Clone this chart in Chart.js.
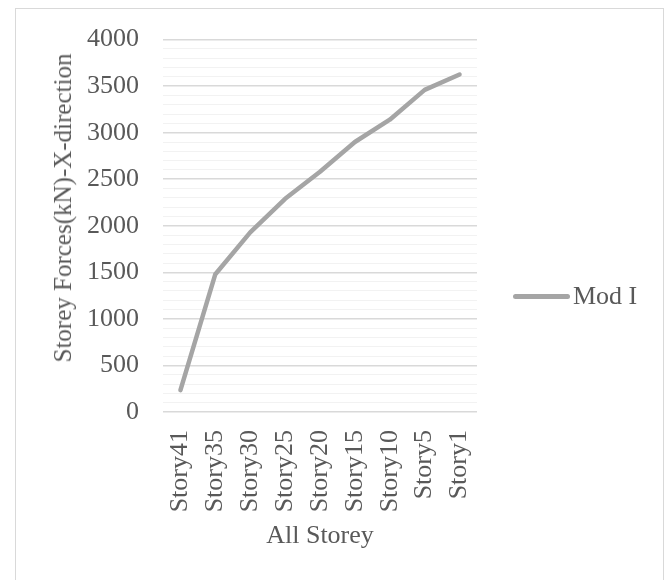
<!DOCTYPE html>
<html>
<head>
<meta charset="utf-8">
<script src="https://cdn.jsdelivr.net/npm/chart.js@4/dist/chart.umd.min.js"></script>
<style>
  body { margin: 0; background: #fff; }
  #wrap { position: relative; width: 670px; height: 580px; }
  #frame { position: absolute; left: 15px; top: 8px; width: 649px; height: 580px; border: 1px solid #d9d9d9; box-sizing: border-box; }
  canvas { position: absolute; left: 0; top: 0; }
  #legend { position: absolute; left: 513px; top: 281px; font: 26px "Liberation Serif", serif; color: #595959; white-space: nowrap; }
  #legend span.swatch { display: inline-block; width: 57px; height: 5px; border-radius: 3px; background: #a5a5a5; vertical-align: middle; margin-right: 3px; position: relative; top: -2px; }
  #ytitle { position: absolute; left: 63px; top: 208px; transform: translate(-50%, -50%) rotate(-90deg); font: 25px "Liberation Serif", serif; color: #595959; white-space: nowrap; }
</style>
</head>
<body>
<div id="wrap">
  <div id="frame"></div>
  <canvas id="myChart" width="670" height="580"></canvas>
  <div id="ytitle">Storey Forces(kN)-X-direction</div>
  <div id="legend"><span class="swatch"></span>Mod I</div>
</div>
<script>
const storeys = ["Story41", "Story35", "Story30", "Story25", "Story20", "Story15", "Story10", "Story5", "Story1"];
const modI = [235, 1480, 1930, 2290, 2580, 2900, 3140, 3460, 3625];
const seriesName = "Mod I";
const yMin = 0;
const yMax = 4000;
const yStep = 100;
const yLabelStep = 500;

const textColor = "#595959";
const serif = "'Liberation Serif', 'Times New Roman', serif";

const ctx = document.getElementById("myChart").getContext("2d");
new Chart(ctx, {
    type: "line",
    data: {
        labels: storeys,
        datasets: [
            {
                label: seriesName,
                data: modI,
                borderColor: "#a5a5a5",
                borderWidth: 4.5,
                borderCapStyle: "round",
                borderJoinStyle: "round",
                pointRadius: 0,
                tension: 0,
            },
        ],
    },
    options: {
        responsive: false,
        animation: false,
        layout: {
            padding: { left: 45, right: 193, top: 37, bottom: 0 },
        },
        plugins: {
            legend: { display: false },
            tooltip: { enabled: false },
        },
        scales: {
            x: {
                offset: true,
                grid: { display: false },
                border: { display: false },
                ticks: {
                    color: textColor,
                    font: { family: serif, size: 26 },
                    minRotation: 90,
                    maxRotation: 90,
                    autoSkip: false,
                    padding: 10,
                },
                title: {
                    display: true,
                    text: "All Storey",
                    color: textColor,
                    font: { family: serif, size: 26 },
                    padding: { top: 0, bottom: 28 },
                },
                afterFit: (scale) => { scale.height = 168; },
            },
            y: {
                min: yMin,
                max: yMax,
                border: { display: false },
                grid: {
                    drawTicks: false,
                    color: (c) => (c.tick.value % yLabelStep === 0 ? "#d9d9d9" : "#f2f2f2"),
                    lineWidth: (c) => (c.tick.value % yLabelStep === 0 ? 1.5 : 1),
                },
                ticks: {
                    stepSize: yStep,
                    autoSkip: false,
                    padding: 24,
                    color: textColor,
                    font: { family: serif, size: 26 },
                    callback: (v) => (v % yLabelStep === 0 ? String(v) : ""),
                },
                afterFit: (scale) => { scale.width = 163 - 45; },
            },
        },
    },
});
</script>
</body>
</html>
